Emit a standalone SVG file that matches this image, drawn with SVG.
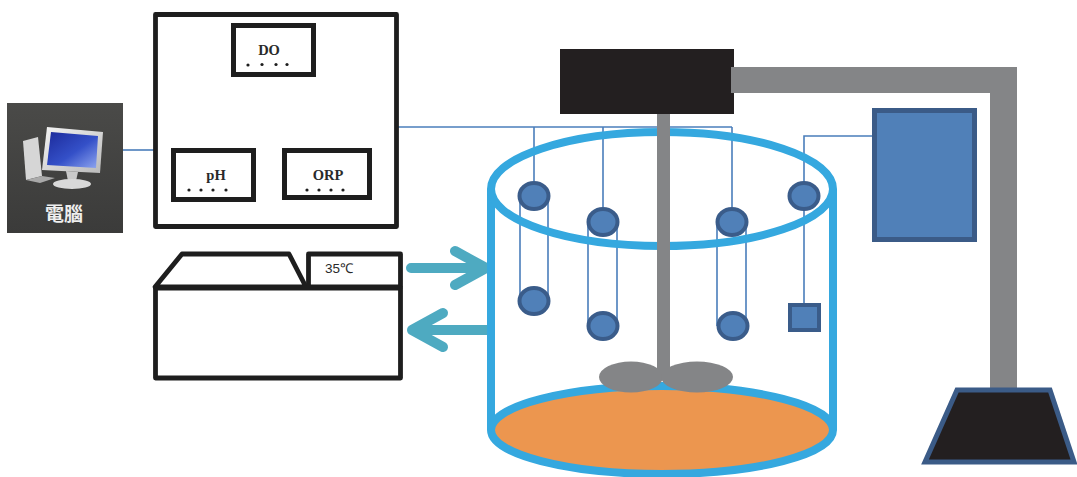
<svg xmlns="http://www.w3.org/2000/svg" width="1077" height="477" viewBox="0 0 1077 477">
  <defs>
    <linearGradient id="pcBg" x1="0" y1="0" x2="0" y2="1">
      <stop offset="0" stop-color="#4a4a48"/>
      <stop offset="1" stop-color="#3b3b3a"/>
    </linearGradient>
    <linearGradient id="screen" x1="0" y1="0" x2="1" y2="1">
      <stop offset="0" stop-color="#1c2a9a"/>
      <stop offset="0.55" stop-color="#3450c8"/>
      <stop offset="1" stop-color="#8fa6f0"/>
    </linearGradient>
    <linearGradient id="frame" x1="0" y1="0" x2="1" y2="1">
      <stop offset="0" stop-color="#f4f4f4"/>
      <stop offset="1" stop-color="#b9b9b9"/>
    </linearGradient>
    <style>
      .wire { fill: none; stroke: #4a7ebb; stroke-width: 1.6; }
      .panel { fill: #ffffff; stroke: #1e1e1e; stroke-width: 5; }
      .outline { fill: #ffffff; stroke: #1e1e1e; stroke-width: 4.8; stroke-linejoin: round; }
      .meterLabel { font-family: "Liberation Serif", "DejaVu Serif", serif; font-weight: bold; font-size: 14.5px; fill: #2a2a2a; }
      .dot { fill: #1e1e1e; }
      .probe { fill: #5080b8; stroke: #3a5c8a; stroke-width: 4; }
      .vessel { fill: none; stroke: #35a8df; stroke-width: 8; }
      .metal { fill: #848587; }
      .flow { fill: none; stroke: #4eaac1; stroke-width: 10; stroke-linecap: round; stroke-linejoin: round; }
    </style>
  </defs>

  <!-- connectors: signal wires and circulation arrows -->
  <g id="connectors">
    <path class="wire" d="M123,150 H155"/>
    <path class="wire" d="M398,127 H732"/>
    <path class="wire" d="M534,127 V181"/>
    <path class="wire" d="M603,127 V207"/>
    <path class="wire" d="M732,127 V207"/>
    <path class="wire" d="M874,136 H804 V303"/>
    <path class="wire" d="M520,196 V301 M548,196 V301"/>
    <path class="wire" d="M588,222 V326 M617,222 V326"/>
    <path class="wire" d="M717,222 V326 M746,222 V326"/>
    <!-- outflow to heater / return from heater -->
    <path class="flow" d="M411,268 H486 M455,251 L486,268 L455,285"/>
    <path class="flow" d="M488,330 H412 M443,313 L412,330 L443,347"/>
  </g>

  <!-- computer -->
  <g id="computer">
    <rect x="7" y="103" width="116" height="130" fill="url(#pcBg)"/>
    <path d="M23,141 L38,137 L42,176 L26,180 Z" fill="#d6d6d6"/>
    <path d="M26,180 L42,176 L55,178 L40,183 Z" fill="#a9a9a9"/>
    <path d="M47,127 L103,132 L100,173 L42,170 Z" fill="url(#frame)"/>
    <path d="M51,132 L98,136 L96,168 L47,165 Z" fill="url(#screen)"/>
    <path d="M66,171 L78,172 L76,181 L68,181 Z" fill="#c9c9c9"/>
    <ellipse cx="72" cy="184" rx="19" ry="5" fill="#d9d9d9"/>
    <text x="64" y="221" text-anchor="middle" font-family="Noto Sans CJK TC, Noto Sans CJK SC, sans-serif" font-size="19" font-weight="bold" fill="#eeeeee">電腦</text>
  </g>

  <!-- water quality meter -->
  <g id="meter">
    <rect x="155.5" y="14.5" width="241" height="212" class="outline"/>
    <g id="meter-do">
      <rect x="233.5" y="25.5" width="80" height="49" class="panel"/>
      <text x="269" y="55" text-anchor="middle" class="meterLabel">DO</text>
      <circle cx="248" cy="65" r="1.6" class="dot"/><circle cx="262" cy="64.5" r="1.6" class="dot"/>
      <circle cx="276" cy="64.5" r="1.6" class="dot"/><circle cx="287" cy="64.5" r="1.6" class="dot"/>
    </g>
    <g id="meter-ph">
      <rect x="173.5" y="150.5" width="80" height="49" class="panel"/>
      <text x="216" y="180" text-anchor="middle" class="meterLabel">pH</text>
      <circle cx="189" cy="190" r="1.6" class="dot"/><circle cx="201" cy="190" r="1.6" class="dot"/>
      <circle cx="213" cy="190" r="1.6" class="dot"/><circle cx="226" cy="190" r="1.6" class="dot"/>
    </g>
    <g id="meter-orp">
      <rect x="284.5" y="150.5" width="85" height="47" class="panel"/>
      <text x="328" y="180" text-anchor="middle" class="meterLabel">ORP</text>
      <circle cx="307" cy="190" r="1.6" class="dot"/><circle cx="319" cy="190" r="1.6" class="dot"/>
      <circle cx="331" cy="190" r="1.6" class="dot"/><circle cx="343" cy="190" r="1.6" class="dot"/>
    </g>
  </g>

  <!-- thermostatic heater -->
  <g id="heater">
    <path d="M155,287 L182,254 L289,254 L306,287 Z" class="outline"/>
    <rect x="308.5" y="254" width="92" height="33" class="outline"/>
    <rect x="155.5" y="288" width="245" height="90" class="outline"/>
    <text x="325" y="272.5" font-family="Liberation Sans, Arial, sans-serif" font-size="13.5" fill="#2a2a2a">35℃</text>
  </g>

  <!-- reactor vessel with stirrer -->
  <g id="reactor">
    <ellipse cx="662" cy="430" rx="171" ry="44" fill="#ec964f" stroke="#35a8df" stroke-width="8"/>
    <line x1="491" y1="189" x2="491" y2="430" class="vessel"/>
    <line x1="833" y1="189" x2="833" y2="430" class="vessel"/>
    <g id="impeller">
      <ellipse cx="631" cy="377" rx="32" ry="15.5" class="metal"/>
      <ellipse cx="697" cy="377" rx="36" ry="15.5" class="metal"/>
    </g>
    <ellipse cx="662" cy="189" rx="171" ry="57" class="vessel"/>
    <rect x="657" y="112" width="13" height="262" class="metal"/>
  </g>

  <!-- stirrer motor -->
  <g id="motor">
    <rect x="560" y="49" width="174" height="65" fill="#231f20"/>
  </g>

  <!-- support stand -->
  <g id="stand">
    <rect x="731" y="67" width="286" height="26" class="metal"/>
    <rect x="990" y="67" width="27" height="324" class="metal"/>
    <path d="M957,390 L1050,390 L1074,462 L925,462 Z" fill="#231f20" stroke="#3b5b87" stroke-width="5" stroke-linejoin="miter"/>
  </g>

  <!-- controller box -->
  <g id="controller">
    <rect x="874.5" y="110.5" width="100" height="129" fill="#5080b8" stroke="#3b5b87" stroke-width="5"/>
  </g>

  <!-- probes -->
  <g id="probes">
    <ellipse cx="534" cy="196" rx="14.5" ry="13" class="probe"/>
    <ellipse cx="603" cy="222" rx="14.5" ry="13" class="probe"/>
    <ellipse cx="732" cy="222" rx="14.5" ry="13" class="probe"/>
    <ellipse cx="804" cy="196" rx="14.5" ry="13" class="probe"/>
    <ellipse cx="534" cy="301" rx="14.5" ry="13" class="probe"/>
    <ellipse cx="603" cy="326" rx="14.5" ry="13" class="probe"/>
    <ellipse cx="733" cy="326" rx="14.5" ry="13" class="probe"/>
    <rect x="790" y="305" width="29" height="25" class="probe" stroke-width="3.5"/>
  </g>
</svg>
